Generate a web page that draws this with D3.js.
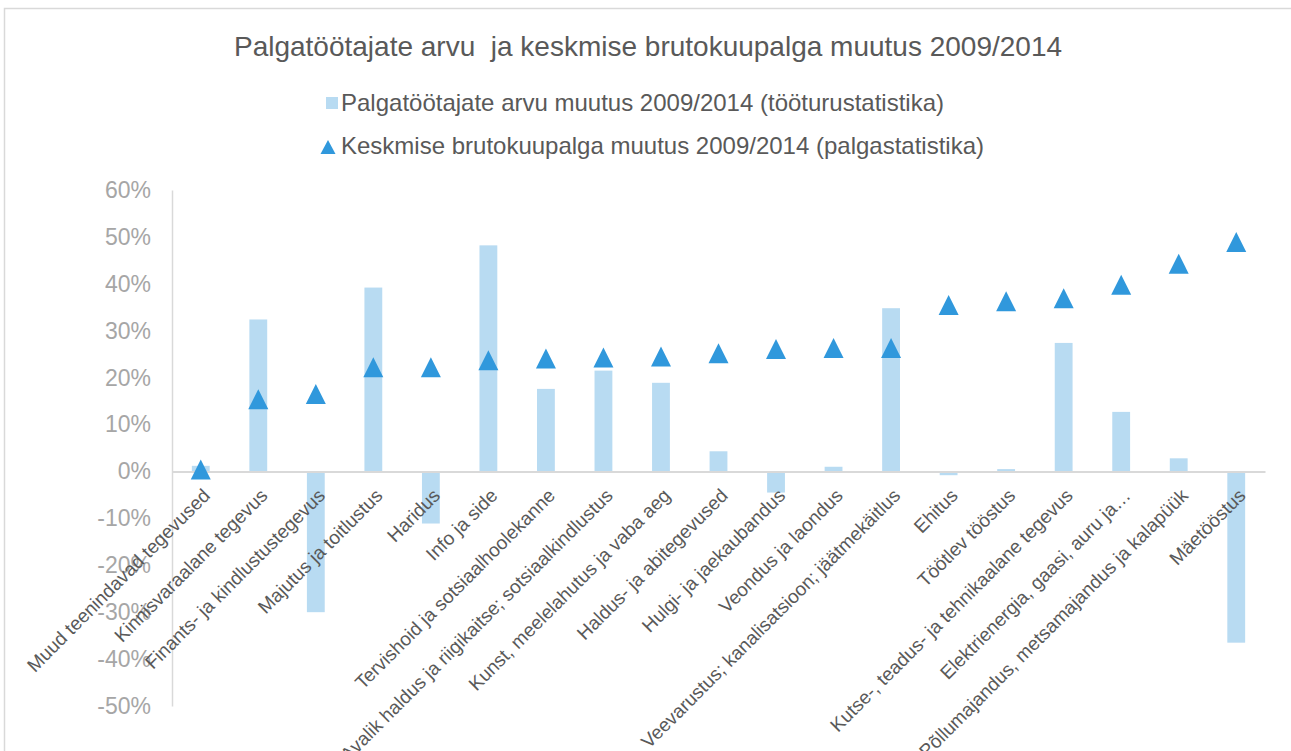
<!DOCTYPE html>
<html>
<head>
<meta charset="utf-8">
<script src="https://cdn.jsdelivr.net/npm/d3@7"></script>
<style>
  body { margin: 0; background: #fff; }
  svg { font-family: "Liberation Sans", Arial, sans-serif; }
</style>
</head>
<body>
<script>
const categories = [
  "Muud teenindavad tegevused",
  "Kinnisvaraalane tegevus",
  "Finants- ja kindlustustegevus",
  "Majutus ja toitlustus",
  "Haridus",
  "Info ja side",
  "Tervishoid ja sotsiaalhoolekanne",
  "Avalik haldus ja riigikaitse; sotsiaalkindlustus",
  "Kunst, meelelahutus ja vaba aeg",
  "Haldus- ja abitegevused",
  "Hulgi- ja jaekaubandus",
  "Veondus ja laondus",
  "Veevarustus; kanalisatsioon; jäätmekäitlus",
  "Ehitus",
  "Töötlev tööstus",
  "Kutse-, teadus- ja tehnikaalane tegevus",
  "Elektrienergia, gaasi, auru ja…",
  "Põllumajandus, metsamajandus ja kalapüük",
  "Mäetööstus"
];

// Palgatöötajate arvu muutus (bars)
const employeeChange = [0.012, 0.324, -0.300, 0.392, -0.111, 0.482, 0.176, 0.215, 0.189, 0.043,
  -0.045, 0.010, 0.348, -0.008, 0.005, 0.274, 0.127, 0.028, -0.365];

// Keskmise brutokuupalga muutus (triangles)
const wageChange = [0.004, 0.154, 0.165, 0.222, 0.222, 0.237, 0.241, 0.243, 0.245, 0.252,
  0.261, 0.263, 0.263, 0.355, 0.363, 0.369, 0.398, 0.443, 0.489];

const yTicks = [-0.5, -0.4, -0.3, -0.2, -0.1, 0, 0.1, 0.2, 0.3, 0.4, 0.5, 0.6];

const seriesNames = [
  "Palgatöötajate arvu muutus 2009/2014 (tööturustatistika)",
  "Keskmise brutokuupalga muutus 2009/2014 (palgastatistika)"
];
const title = "Palgatöötajate arvu  ja keskmise brutokuupalga muutus 2009/2014";

const width = 1291;
const height = 751;
const barColor = "#b8dbf2";
const markColor = "#3098dc";
const textColor = "#595959";
const lineColor = "#d9d9d9";

const data = categories.map((c, i) => ({ name: c, emp: employeeChange[i], wage: wageChange[i] }));

// triangle with its box centred on the value, like the spreadsheet marker
function triangle(w, h) {
  return `M0,${-h / 2}L${w / 2},${h / 2}L${-w / 2},${h / 2}Z`;
}

const svg = d3.select("body").append("svg")
    .attr("width", width)
    .attr("height", height);

// chart border
svg.append("rect")
    .attr("x", 4.5).attr("y", 8.5)
    .attr("width", width + 20).attr("height", height + 20)
    .attr("fill", "none")
    .attr("stroke", lineColor)
    .attr("stroke-width", 1.5);

const x = d3.scaleBand()
    .domain(categories)
    .range([172, 1265]);

const y = d3.scaleLinear()
    .domain([-0.5, 0.6])
    .range([706, 190]);

const barW = x.bandwidth() * 0.31;

// title
svg.append("text")
    .attr("x", 648).attr("y", 56)
    .attr("text-anchor", "middle")
    .attr("fill", textColor)
    .style("font-size", "28px")
    .style("white-space", "pre")
    .text(title);

// legend
const legend = svg.append("g");
legend.append("rect")
    .attr("x", 326).attr("y", 97)
    .attr("width", 12).attr("height", 12)
    .attr("fill", barColor);
legend.append("text")
    .attr("x", 341).attr("y", 111)
    .attr("fill", textColor)
    .style("font-size", "24px")
    .text(seriesNames[0]);
legend.append("path")
    .attr("d", triangle(15, 14))
    .attr("transform", "translate(328,147)")
    .attr("fill", markColor);
legend.append("text")
    .attr("x", 341).attr("y", 154)
    .attr("fill", textColor)
    .style("font-size", "24px")
    .text(seriesNames[1]);

// y axis
const yAxis = svg.append("g")
    .attr("transform", "translate(172,0)")
    .call(d3.axisLeft(y)
        .tickValues(yTicks)
        .tickFormat(d => Math.round(d * 100) + "%")
        .tickSize(0)
        .tickPadding(21));
yAxis.select(".domain").attr("stroke", lineColor).attr("stroke-width", 1.5);
yAxis.selectAll("text")
    .attr("fill", "#a6a6a6")
    .style("font-size", "23px")
    .style("font-family", "'Liberation Sans', Arial, sans-serif");

// bars
svg.selectAll(".bar")
    .data(data)
    .enter().append("rect")
    .attr("class", "bar")
    .attr("x", d => x(d.name) + x.bandwidth() / 2 - barW / 2)
    .attr("y", d => y(Math.max(0, d.emp)))
    .attr("width", barW)
    .attr("height", d => Math.abs(y(d.emp) - y(0)))
    .attr("fill", barColor);

// category axis on zero line
const xAxis = svg.append("g")
    .attr("transform", `translate(0,${y(0)})`)
    .call(d3.axisBottom(x).tickSize(0));
xAxis.select(".domain").attr("stroke", lineColor).attr("stroke-width", 2);
xAxis.selectAll("text")
    .attr("y", null)
    .attr("dy", "0.7em")
    .attr("text-anchor", "end")
    .attr("transform", "translate(1,16) rotate(-45)")
    .attr("fill", textColor)
    .style("font-size", "19px")
    .style("font-family", "'Liberation Sans', Arial, sans-serif");

// triangles
svg.selectAll(".mark")
    .data(data)
    .enter().append("path")
    .attr("class", "mark")
    .attr("d", triangle(20, 20))
    .attr("transform", d => `translate(${x(d.name) + x.bandwidth() / 2},${y(d.wage)})`)
    .attr("fill", markColor);
</script>
</body>
</html>
